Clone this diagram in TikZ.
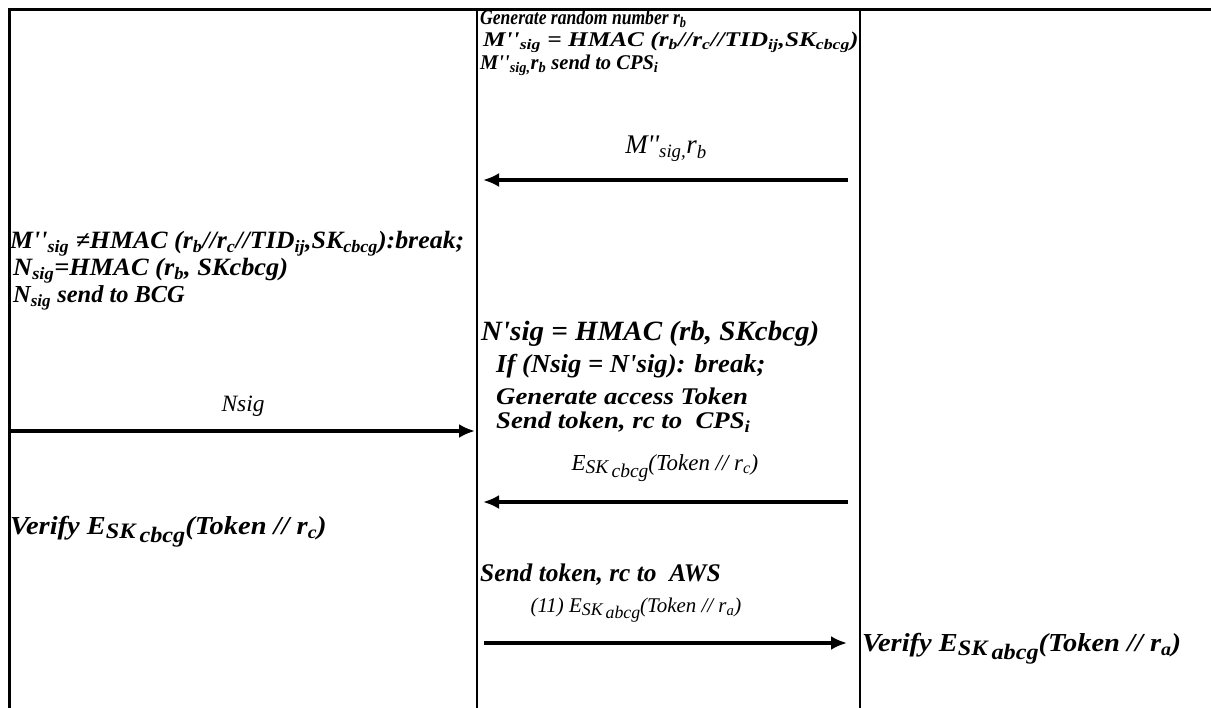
\documentclass[tikz,border=0pt]{standalone}
\usepackage{fontspec}
\setmainfont{Liberation Serif}
\usetikzlibrary{arrows.meta, positioning}
\newcommand{\Ekey}[1]{E\raisebox{-0.35ex}{\scalebox{0.85}{SK\,\raisebox{-0.4ex}{#1}}}}
\newcommand{\dpr}{\textquotesingle\textquotesingle}

\begin{document}
\begin{tikzpicture}[x=1bp, y=-1bp,
    step text/.style={anchor=west, inner sep=0pt, font=\fontsize{#1}{#1}\selectfont\bfseries\itshape},
    step text/.default=26,
    msg text/.style={inner sep=0pt, font=\fontsize{#1}{#1}\selectfont\itshape},
    msg text/.default=24,
    msg arrow/.style={line width=3.4bp, -{Latex[length=16bp, width=14bp]}}]
    \useasboundingbox (0,0) rectangle (1211,708);

    % Table frame
    \draw[line width=3bp] (9,708) -- (9,10) -- (1211,10);
    \draw[line width=2.2bp] (477,10) -- (477,708);
    \draw[line width=2.2bp] (860,10) -- (860,708);

    % BCG: random number and signature
    \node[step text=21] (gen) at (480,19) {\scalebox{0.84}[1]{Generate random number r\textsubscript{b}}};
    \node[step text=21] (msig) at (483,42) {\scalebox{1.21}[1]{M\dpr\textsubscript{sig} = HMAC (r\textsubscript{b}//r\textsubscript{c}//TID\textsubscript{ij},SK\textsubscript{cbcg})}};
    \node[step text=21] (sendm) at (480,65) {\scalebox{0.98}[1]{M\dpr\textsubscript{sig,}r\textsubscript{b} send to CPS\textsubscript{i}}};

    % Message 1
    \node[msg text=27] (m1) at (666,149) {M\dpr\textsubscript{sig,}r\textsubscript{b}};
    \coordinate (m1s) at (848,180);
    \coordinate (m1e) at (483,180);
    \draw[msg arrow] (m1s) -- (m1e);

    % CPS: check and reply
    \node[step text=25] (chk) at (10,244) {\scalebox{1.04}[1]{M\dpr\textsubscript{sig} ≠HMAC (r\textsubscript{b}//r\textsubscript{c}//TID\textsubscript{ij},SK\textsubscript{cbcg}):break;}};
    \node[step text=25] (nsig) at (13,271) {\scalebox{1.06}[1]{N\textsubscript{sig}=HMAC (r\textsubscript{b}, SKcbcg)}};
    \node[step text=24.5] (sendn) at (13,298) {N\textsubscript{sig} send to BCG};

    % BCG: verify and token
    \node[step text=28] (nps) at (481,334) {\scalebox{1.04}[1]{N\textquotesingle sig = HMAC (rb, SKcbcg)}};
    \node[step text=26] (ifb) at (496,366) {\scalebox{1.03}[1]{If (Nsig = N\textquotesingle sig): break;}};
    \node[step text=24] (tok) at (496,396) {\scalebox{1.12}[1]{Generate access Token}};
    \node[step text=24] (sendt) at (496,422) {\scalebox{1.12}[1]{Send token, rc to~ CPS\textsubscript{i}}};

    % Message 2
    \node[msg text=23.5] (m2) at (243,406) {Nsig};
    \coordinate (m2s) at (10,431);
    \coordinate (m2e) at (475,431);
    \draw[msg arrow] (m2s) -- (m2e);

    % Message 3
    \node[msg text=23] (m3) at (665,468) {\Ekey{cbcg}(Token // r\textsubscript{c})};
    \coordinate (m3s) at (848,502);
    \coordinate (m3e) at (483,502);
    \draw[msg arrow] (m3s) -- (m3e);

    \node[step text=26] (ver1) at (10,532) {\scalebox{1.1}[1]{Verify \Ekey{cbcg}(Token // r\textsubscript{c})}};
    \node[step text=25.5] (aws) at (480,575) {Send token, rc to~ AWS};

    % Message 4
    \node[msg text=21] (m4) at (636,610) {(11) \Ekey{abcg}(Token // r\textsubscript{a})};
    \coordinate (m4s) at (484,643);
    \coordinate (m4e) at (847,643);
    \draw[msg arrow] (m4s) -- (m4e);

    \node[step text=26] (ver2) at (862,649) {\scalebox{1.1}[1]{Verify \Ekey{abcg}(Token // r\textsubscript{a})}};
\end{tikzpicture}
\end{document}
